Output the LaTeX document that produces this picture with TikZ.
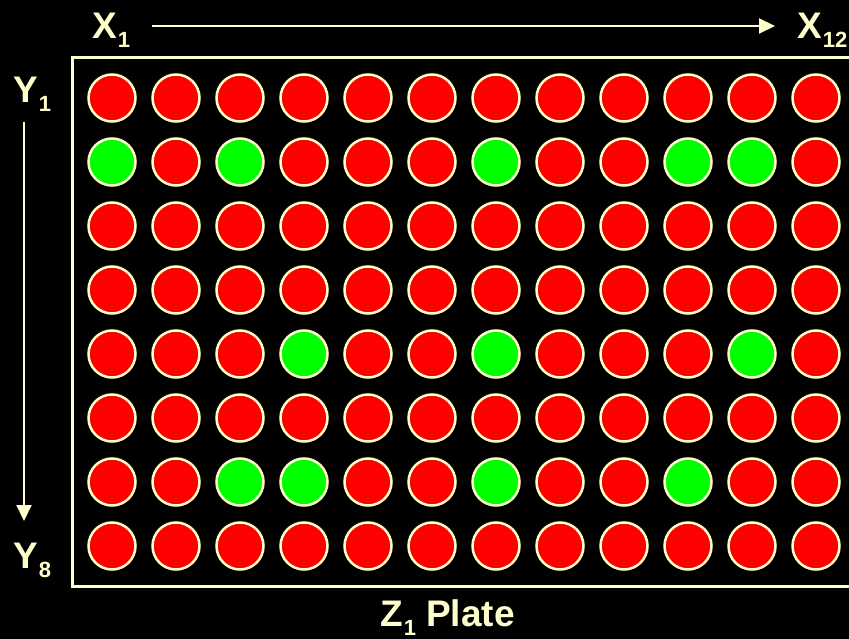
\documentclass[tikz,border=0pt]{standalone}
\usepackage{fontspec}
\setmainfont{Liberation Sans}
\usetikzlibrary{arrows.meta}
\definecolor{cream}{HTML}{FFFFCC}
\definecolor{wellred}{HTML}{FF0000}
\definecolor{wellgreen}{HTML}{00FF00}
\newcommand\lbl[2]{#1\kern1pt\raisebox{-9pt}{\fontsize{22}{22}\selectfont #2}}
% green wells (row-column)
\expandafter\def\csname gw-2-1\endcsname{}
\expandafter\def\csname gw-2-3\endcsname{}
\expandafter\def\csname gw-2-7\endcsname{}
\expandafter\def\csname gw-2-10\endcsname{}
\expandafter\def\csname gw-2-11\endcsname{}
\expandafter\def\csname gw-5-4\endcsname{}
\expandafter\def\csname gw-5-7\endcsname{}
\expandafter\def\csname gw-5-11\endcsname{}
\expandafter\def\csname gw-7-3\endcsname{}
\expandafter\def\csname gw-7-4\endcsname{}
\expandafter\def\csname gw-7-7\endcsname{}
\expandafter\def\csname gw-7-10\endcsname{}
\begin{document}
\begin{tikzpicture}[x=1pt,y=-1pt,
  lab/.style={text=cream, font=\fontsize{37}{37}\selectfont\bfseries, inner sep=0pt, anchor=base west},
  well/.style={circle, draw=cream, line width=2.5pt, minimum size=47pt, inner sep=0pt, fill=wellred},
  hit/.style={well, fill=wellgreen},
  plate/.style={draw=cream, line width=3pt},
  axis/.style={draw=cream, line width=2pt, -{Triangle[length=16pt,width=15pt]}}]
\fill[black] (0,0) rectangle (849,639);
\useasboundingbox (0,0) rectangle (849,639);
\begin{scope}
\clip (0,0) rectangle (849,639);
\draw[plate] (72,58) rectangle (870,586);
\foreach \r in {1,...,8}{
  \foreach \c in {1,...,12}{
    \ifcsname gw-\r-\c\endcsname\def\wst{hit}\else\def\wst{well}\fi
    \node[\wst] (w-\r-\c) at ({112+64*(\c-1)},{98+64*(\r-1)}) {};
  }
}
\end{scope}
\node[lab] (x1) at (92,39) {\lbl{X}{1}};
\node[lab] (x12) at (797,39) {\lbl{X}{12}};
\node[lab] (y1) at (13,103) {\lbl{Y}{1}};
\node[lab] (y8) at (13,568) {\lbl{Y}{8}};
\node[lab] (z1) at (380,626) {\lbl{Z}{1} Plate};
\coordinate (xs) at (152,26);
\coordinate (xe) at (775,26);
\coordinate (ys) at (24,122);
\coordinate (ye) at (24,521);
\draw[axis] (xs) -- (xe);
\draw[axis] (ys) -- (ye);
\end{tikzpicture}
\end{document}
